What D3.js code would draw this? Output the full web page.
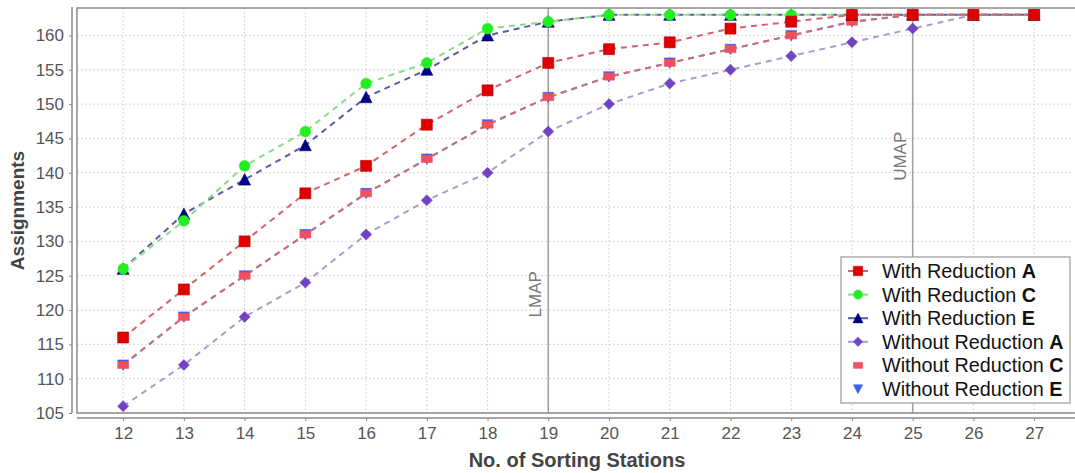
<!DOCTYPE html>
<html>
<head>
<meta charset="utf-8">
<script src="https://cdn.jsdelivr.net/npm/d3@7"></script>
<style>
  html, body { margin: 0; padding: 0; background: #fff; }
  svg { display: block; }
</style>
</head>
<body>
<svg id="chart" width="1075" height="473"></svg>
<script>
// ---------- data ----------
const stations = [12, 13, 14, 15, 16, 17, 18, 19, 20, 21, 22, 23, 24, 25, 26, 27];
const withReductionA    = [116, 123, 130, 137, 141, 147, 152, 156, 158, 159, 161, 162, 163, 163, 163, 163];
const withReductionC    = [126, 133, 141, 146, 153, 156, 161, 162, 163, 163, 163, 163, 163, 163, 163, 163];
const withReductionE    = [126, 134, 139, 144, 151, 155, 160, 162, 163, 163, 163, 163, 163, 163, 163, 163];
const withoutReductionA = [106, 112, 119, 124, 131, 136, 140, 146, 150, 153, 155, 157, 159, 161, 163, 163];
const withoutReductionC = [112, 119, 125, 131, 137, 142, 147, 151, 154, 156, 158, 160, 162, 163, 163, 163];
const withoutReductionE = [112, 119, 125, 131, 137, 142, 147, 151, 154, 156, 158, 160, 162, 163, 163, 163];
const yTicks = [105, 110, 115, 120, 125, 130, 135, 140, 145, 150, 155, 160];
const markers = [
  { x: 19, label: "LMAP", labelY: 122.3 },
  { x: 25, label: "UMAP", labelY: 142.4 }
];
const seriesNames = ["With Reduction", "With Reduction", "With Reduction",
                     "Without Reduction", "Without Reduction", "Without Reduction"];
const seriesLetters = ["A", "C", "E", "A", "C", "E"];

// ---------- styles ----------
const styles = [
  { shape: "square",  fill: "#e00000", stroke: "#b00000", line: "#d9606a" },
  { shape: "circle",  fill: "#22ee22", stroke: "#22ee22", line: "#88dd88" },
  { shape: "triUp",   fill: "#000080", stroke: "#000080", line: "#5a5aa6" },
  { shape: "diamond", fill: "#7043c4", stroke: "#7043c4", line: "#a89ccc" },
  { shape: "bar",     fill: "#f0505e", stroke: "#f0505e", line: "#cc6c86" },
  { shape: "triDown", fill: "#3f5cf5", stroke: "#3f5cf5", line: "#7a86d8" }
];
const allValues = [withReductionA, withReductionC, withReductionE,
                   withoutReductionA, withoutReductionC, withoutReductionE];
const series = allValues.map((vals, i) => ({
  name: seriesNames[i], letter: seriesLetters[i], style: styles[i],
  points: stations.map((s, j) => ({ x: s, y: vals[j] }))
}));

// ---------- layout ----------
const svg = d3.select("#chart");
const plot = { left: 77, right: 1073, top: 8, bottom: 413 };
const x = d3.scaleLinear().domain([11.24, 27.64]).range([plot.left, plot.right]);
const y = d3.scaleLinear().domain([105, 164]).range([plot.bottom, plot.top]);

// plot background
svg.append("rect")
  .attr("x", plot.left).attr("y", plot.top)
  .attr("width", plot.right - plot.left).attr("height", plot.bottom - plot.top)
  .attr("fill", "#fff");

// grid
const grid = svg.append("g");
grid.selectAll("line.v").data(stations).join("line")
  .attr("x1", d => x(d)).attr("x2", d => x(d))
  .attr("y1", plot.top).attr("y2", plot.bottom)
  .attr("stroke", "#d6d6d6").attr("stroke-width", 1).attr("stroke-dasharray", "2,2");
grid.selectAll("line.h").data(yTicks).join("line")
  .attr("x1", plot.left).attr("x2", plot.right)
  .attr("y1", d => y(d)).attr("y2", d => y(d))
  .attr("stroke", "#d6d6d6").attr("stroke-width", 1).attr("stroke-dasharray", "2,2");

// value markers (LMAP / UMAP)
const mk = svg.append("g");
mk.selectAll("line").data(markers).join("line")
  .attr("x1", d => x(d.x)).attr("x2", d => x(d.x))
  .attr("y1", plot.top).attr("y2", plot.bottom)
  .attr("stroke", "#a0a0a0").attr("stroke-width", 1.5);
mk.selectAll("text").data(markers).join("text")
  .attr("transform", d => `translate(${x(d.x) - 7},${y(d.labelY)}) rotate(-90)`)
  .attr("text-anchor", "middle")
  .attr("font-family", "Liberation Sans, Arial, sans-serif")
  .attr("font-size", 17)
  .attr("fill", "#777")
  .text(d => d.label);

// lines (reverse series order)
const lineGen = d3.line().x(d => x(d.x)).y(d => y(d.y));
const drawOrder = series.slice().reverse();
svg.append("g").selectAll("path").data(drawOrder).join("path")
  .attr("d", d => lineGen(d.points))
  .attr("fill", "none")
  .attr("stroke", d => d.style.line)
  .attr("stroke-width", 2)
  .attr("stroke-dasharray", "6,5");

// shapes
function shapePath(shape) {
  switch (shape) {
    case "square":  return "M-5.5,-5.5H5.5V5.5H-5.5Z";
    case "circle":  return d3.symbol(d3.symbolCircle, 90)();
    case "triUp":   return "M0,-6L6,5.5H-6Z";
    case "diamond": return "M0,-5.5L5.5,0L0,5.5L-5.5,0Z";
    case "bar":     return "M-5.5,-3.5H5.5V3.5H-5.5Z";
    case "triDown": return "M-5.5,-5L5.5,-5L0,5.5Z";
  }
}
const shapesG = svg.append("g");
drawOrder.forEach(s => {
  shapesG.append("g").selectAll("path").data(s.points).join("path")
    .attr("transform", d => `translate(${x(d.x)},${y(d.y)})`)
    .attr("d", shapePath(s.style.shape))
    .attr("fill", s.style.fill)
    .attr("stroke", s.style.stroke)
    .attr("stroke-width", 0.6);
});

// plot border
svg.append("rect")
  .attr("x", plot.left).attr("y", plot.top)
  .attr("width", plot.right - plot.left + 4).attr("height", plot.bottom - plot.top)
  .attr("fill", "none").attr("stroke", "#8a8a8a").attr("stroke-width", 1.5);

// axes
const yAxis = d3.axisLeft(y).tickValues(yTicks).tickSize(3).tickPadding(5);
const yg = svg.append("g").attr("transform", `translate(${plot.left - 5},0)`).call(yAxis);
yg.select(".domain").attr("d", `M0,${plot.top - 1}V${plot.bottom}`).attr("stroke", "#8a8a8a").attr("stroke-width", 1.5);
yg.selectAll(".tick line").attr("stroke", "#8a8a8a");
yg.selectAll("text").attr("font-family", "Liberation Sans, Arial, sans-serif")
  .attr("font-size", 17).attr("fill", "#555");

const xAxis = d3.axisBottom(x).tickValues(stations).tickFormat(d3.format("d")).tickSize(3).tickPadding(6);
const xg = svg.append("g").attr("transform", `translate(0,${plot.bottom + 5})`).call(xAxis);
xg.select(".domain").attr("d", `M${plot.left},0H${plot.right + 4}`).attr("stroke", "#8a8a8a").attr("stroke-width", 1.5);
xg.selectAll(".tick line").attr("stroke", "#8a8a8a");
xg.selectAll("text").attr("font-family", "Liberation Sans, Arial, sans-serif")
  .attr("font-size", 17).attr("fill", "#555");

// axis titles
svg.append("text")
  .attr("x", (plot.left + plot.right) / 2 + 2).attr("y", 467)
  .attr("text-anchor", "middle")
  .attr("font-family", "Liberation Sans, Arial, sans-serif")
  .attr("font-size", 20).attr("font-weight", "bold").attr("fill", "#444")
  .text("No. of Sorting Stations");
svg.append("text")
  .attr("transform", `translate(24,${(plot.top + plot.bottom) / 2}) rotate(-90)`)
  .attr("text-anchor", "middle")
  .attr("font-family", "Liberation Sans, Arial, sans-serif")
  .attr("font-size", 19).attr("font-weight", "bold").attr("fill", "#444")
  .text("Assignments");

// legend
const legend = svg.append("g").attr("transform", "translate(841,257)");
legend.append("rect").attr("width", 229).attr("height", 146)
  .attr("fill", "#fff").attr("stroke", "#999").attr("stroke-width", 1.2);
const rows = legend.selectAll("g.row").data(series).join("g")
  .attr("transform", (d, i) => `translate(0,${14 + i * 23.6})`);
rows.each(function(d, i) {
  const g = d3.select(this);
  if (i < 4) {
    g.append("line").attr("x1", 7).attr("x2", 27).attr("y1", 0).attr("y2", 0)
      .attr("stroke", d.style.line).attr("stroke-width", 2);
  }
  g.append("path").attr("transform", "translate(17,0) scale(0.85)")
    .attr("d", shapePath(d.style.shape)).attr("fill", d.style.fill).attr("stroke", d.style.stroke).attr("stroke-width", 0.6);
  const t = g.append("text").attr("x", 41).attr("y", 7)
    .attr("font-family", "Liberation Sans, Arial, sans-serif").attr("font-size", 19.8).attr("fill", "#111");
  t.append("tspan").text(d.name + " ");
  t.append("tspan").attr("font-weight", "bold").text(d.letter);
});
</script>
</body>
</html>
